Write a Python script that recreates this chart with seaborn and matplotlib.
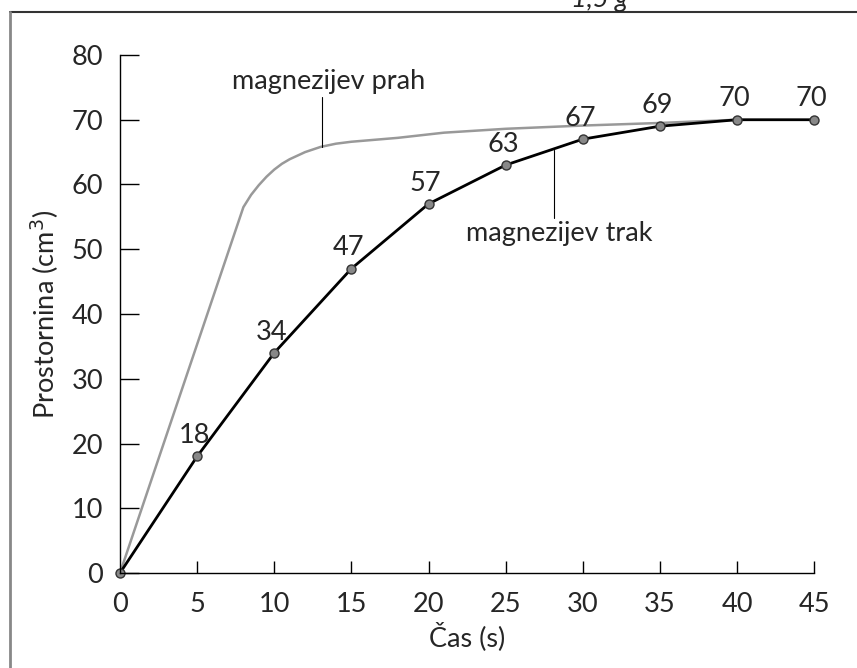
import matplotlib
matplotlib.use('Agg')
import matplotlib.pyplot as plt
from matplotlib.lines import Line2D
import seaborn as sns
import pandas as pd

# magnezijev trak (measured points)
cas_trak = [0, 5, 10, 15, 20, 25, 30, 35, 40, 45]
vol_trak = [0, 18, 34, 47, 57, 63, 67, 69, 70, 70]
label_trak = ['', '18', '34', '47', '57', '63', '67', '69', '70', '70']

# magnezijev prah (smooth curve)
cas_prah = [0, 8, 8.5, 9, 9.5, 10, 10.5, 11, 12, 13, 14, 15, 18, 21, 25, 30, 35, 40]
vol_prah = [0, 56.5, 58.4, 59.9, 61.2, 62.3, 63.2, 63.9, 65.0, 65.8, 66.3, 66.6,
            67.2, 68.0, 68.6, 69.1, 69.5, 70]

x_ticks = [0, 5, 10, 15, 20, 25, 30, 35, 40, 45]
y_ticks = [0, 10, 20, 30, 40, 50, 60, 70, 80]

sns.set_style('white')
plt.rcParams['font.family'] = ['Lato', 'DejaVu Sans']
FS = 19.5

df_trak = pd.DataFrame({'cas': cas_trak, 'vol': vol_trak})
df_prah = pd.DataFrame({'cas': cas_prah, 'vol': vol_prah})

fig = plt.figure(figsize=(8.57, 6.68), dpi=100)
ax = fig.add_axes([0.140, 0.1422, 0.810, 0.7755])

sns.lineplot(data=df_prah, x='cas', y='vol', ax=ax, color='#999999', linewidth=1.8,
             sort=False, estimator=None)
sns.lineplot(data=df_trak, x='cas', y='vol', ax=ax, color='black', linewidth=2,
             marker='o', markersize=6.5, markerfacecolor='#888888',
             markeredgecolor='#333333', markeredgewidth=1, sort=False, estimator=None)

for x, y, t in zip(cas_trak, vol_trak, label_trak):
    if t:
        ax.annotate(t, (x, y), xytext=(-2, 6), textcoords='offset points',
                    ha='center', va='bottom', fontsize=FS)

# leader labels
ax.plot([13.1, 13.1], [65.8, 73.5], color='black', lw=0.8)
ax.text(13.5, 74.0, 'magnezijev prah', ha='center', va='bottom', fontsize=FS)
ax.plot([28.15, 28.15], [54.8, 65.3], color='black', lw=0.8)
ax.text(28.5, 54.3, 'magnezijev trak', ha='center', va='top', fontsize=FS)

ax.set_xlim(0, 45)
ax.set_ylim(0, 80)
ax.set_xticks(x_ticks)
ax.set_yticks(y_ticks)
ax.set_xlabel('Čas (s)', fontsize=FS, labelpad=3)
ax.set_ylabel('Prostornina (cm$^3$)', fontsize=FS, labelpad=8)
ax.tick_params(axis='x', bottom=True, direction='in', length=9, width=1,
               labelsize=FS, pad=14, color='black')
ax.tick_params(axis='y', left=True, direction='in', length=14, width=1,
               labelsize=FS, pad=12, color='black')
ax.xaxis.get_major_ticks()[0].tick1line.set_visible(False)

sns.despine(ax=ax)
for s in ['left', 'bottom']:
    ax.spines[s].set_color('black')
    ax.spines[s].set_linewidth(1)
ax.patch.set_alpha(0)
for line in ax.lines:
    line.set_clip_on(False)

# page frame
fig.add_artist(Line2D([10 / 857, 1], [1 - 12 / 668, 1 - 12 / 668], color='#333333', lw=1.5))
fig.add_artist(Line2D([10 / 857, 10 / 857], [0, 1 - 12 / 668], color='#888888', lw=2))
fig.text(600 / 857, 1 - 7 / 668, '1,5 g', ha='center', va='baseline', fontsize=FS, style='italic')

fig.savefig('out.png', dpi=100)
